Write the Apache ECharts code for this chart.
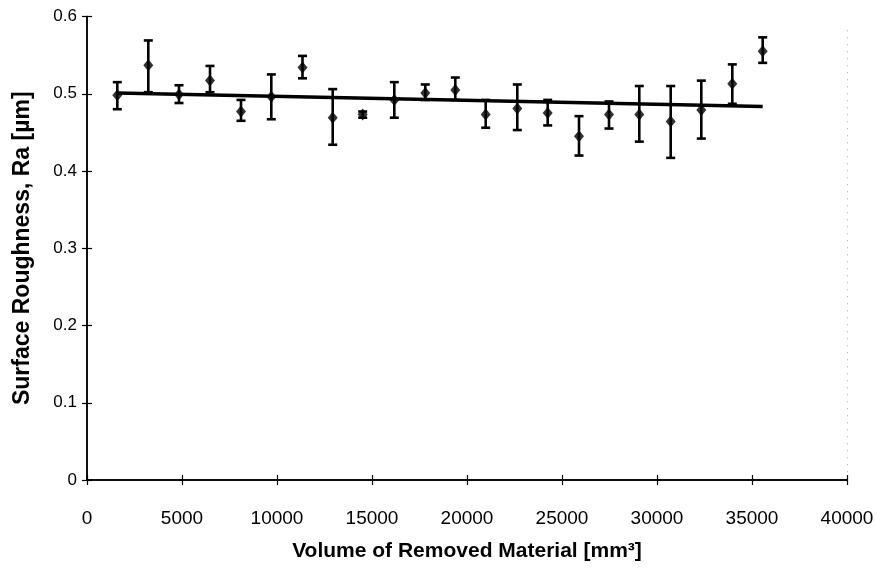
<!DOCTYPE html>
<html>
<head>
<meta charset="utf-8">
<script src="https://cdn.jsdelivr.net/npm/echarts@6/dist/echarts.min.js"></script>
<style>
  html, body { margin: 0; padding: 0; background: #fff; }
  #chart { width: 877px; height: 570px; }
</style>
</head>
<body>
<div id="chart"></div>
<script>
// Removed volume [mm^3] for each measurement
const volume = [1595, 3226, 4842, 6474, 8105, 9700, 11342, 12932, 14510, 16174, 17805,
                19384, 20984, 22647, 24247, 25895, 27474, 29068, 30721, 32332, 33963, 35563];
// Mean surface roughness Ra [µm]
const roughness = [0.498, 0.537, 0.499, 0.517, 0.477, 0.496, 0.534, 0.469, 0.473, 0.492, 0.501,
                   0.505, 0.473, 0.481, 0.475, 0.445, 0.473, 0.473, 0.464, 0.479, 0.513, 0.555];
// Upper / lower ends of the scatter bars
const upper = [0.515, 0.569, 0.511, 0.536, 0.492, 0.525, 0.549, 0.506, 0.477, 0.515, 0.512,
               0.521, 0.492, 0.512, 0.492, 0.471, 0.490, 0.510, 0.510, 0.517, 0.538, 0.573];
const lower = [0.480, 0.502, 0.488, 0.502, 0.465, 0.467, 0.520, 0.434, 0.469, 0.469, 0.492,
               0.492, 0.456, 0.453, 0.459, 0.420, 0.455, 0.438, 0.417, 0.442, 0.487, 0.540];

// Least-squares linear trend through the means
function linearTrend(xs, ys) {
  const n = xs.length;
  let sx = 0, sy = 0, sxx = 0, sxy = 0;
  for (let i = 0; i < n; i++) { sx += xs[i]; sy += ys[i]; sxx += xs[i] * xs[i]; sxy += xs[i] * ys[i]; }
  const b = (n * sxy - sx * sy) / (n * sxx - sx * sx);
  const a = (sy - b * sx) / n;
  const x0 = xs[0], x1 = xs[n - 1];
  return [[x0, a + b * x0], [x1, a + b * x1]];
}
const trend = linearTrend(volume, roughness);

const font = 'Liberation Sans, Arial, sans-serif';
const chart = echarts.init(document.getElementById('chart'));

const errData = volume.map((v, i) => [v, lower[i], upper[i]]);
const meanData = volume.map((v, i) => [v, roughness[i]]);

const baseX = {
  type: 'value', min: 0, max: 40000, interval: 5000,
  axisLine: { show: true, onZero: false, lineStyle: { color: '#000', width: 1.5 } },
  splitLine: { show: false }
};
const baseY = {
  type: 'value', min: 0, max: 0.6, interval: 0.1,
  axisLine: { show: true, onZero: false, lineStyle: { color: '#000', width: 1.5 } },
  splitLine: { show: false }
};

chart.setOption({
  animation: false,
  backgroundColor: '#fff',
  grid: { left: 87, right: 30, top: 16.5, bottom: 90 },
  xAxis: [
    Object.assign({}, baseX, {
      position: 'bottom',
      name: 'Volume of Removed Material [mm³]',
      nameLocation: 'middle', nameGap: 61,
      nameTextStyle: { fontFamily: font, fontWeight: 'bold', fontSize: 21, color: '#000' },
      axisTick: { show: true, inside: false, length: 5, lineStyle: { color: '#000', width: 1.2 } },
      axisLabel: { fontFamily: font, fontSize: 19, color: '#000', margin: 29,
                   formatter: v => String(v) }
    }),
    Object.assign({}, baseX, {
      position: 'bottom',
      axisTick: { show: true, inside: true, length: 5, lineStyle: { color: '#000', width: 1.2 } },
      axisLabel: { show: false }
    })
  ],
  yAxis: [
    Object.assign({}, baseY, {
      position: 'left',
      name: 'Surface Roughness, Ra [µm]',
      nameLocation: 'middle', nameGap: 53,
      nameTextStyle: { fontFamily: font, fontWeight: 'bold', fontSize: 23, color: '#000' },
      axisTick: { show: true, inside: false, length: 5, lineStyle: { color: '#000', width: 1.2 } },
      axisLabel: { fontFamily: font, fontSize: 17, color: '#000', margin: 10,
                   formatter: v => String(v) }
    }),
    Object.assign({}, baseY, {
      position: 'left',
      axisTick: { show: true, inside: true, length: 5, lineStyle: { color: '#000', width: 1.2 } },
      axisLabel: { show: false }
    })
  ],
  series: [
    {
      // linear trend of the means
      type: 'line',
      data: trend,
      symbol: 'none',
      lineStyle: { color: '#000', width: 3.5 },
      z: 2,
      markLine: {
        silent: true, symbol: 'none', label: { show: false },
        lineStyle: { color: '#aaa', type: [1, 6], width: 1 },
        data: [[{ coord: [40000, 0.01] }, { coord: [40000, 0.585] }]]
      }
    },
    {
      // error bars with end caps
      type: 'custom',
      data: errData,
      z: 3,
      renderItem: function (params, api) {
        const x = api.value(0);
        const lo = api.coord([x, api.value(1)]);
        const hi = api.coord([x, api.value(2)]);
        const cap = 4.5;
        const style = { stroke: '#000', lineWidth: 2.6, fill: null };
        return {
          type: 'group',
          children: [
            { type: 'line', shape: { x1: lo[0], y1: lo[1], x2: hi[0], y2: hi[1] }, style: style },
            { type: 'line', shape: { x1: hi[0] - cap, y1: hi[1], x2: hi[0] + cap, y2: hi[1] }, style: style },
            { type: 'line', shape: { x1: lo[0] - cap, y1: lo[1], x2: lo[0] + cap, y2: lo[1] }, style: style }
          ]
        };
      }
    },
    {
      // mean values
      type: 'scatter',
      data: meanData,
      symbol: 'diamond',
      symbolSize: [10, 12],
      itemStyle: { color: '#000' },
      z: 4
    }
  ]
});
</script>
</body>
</html>
